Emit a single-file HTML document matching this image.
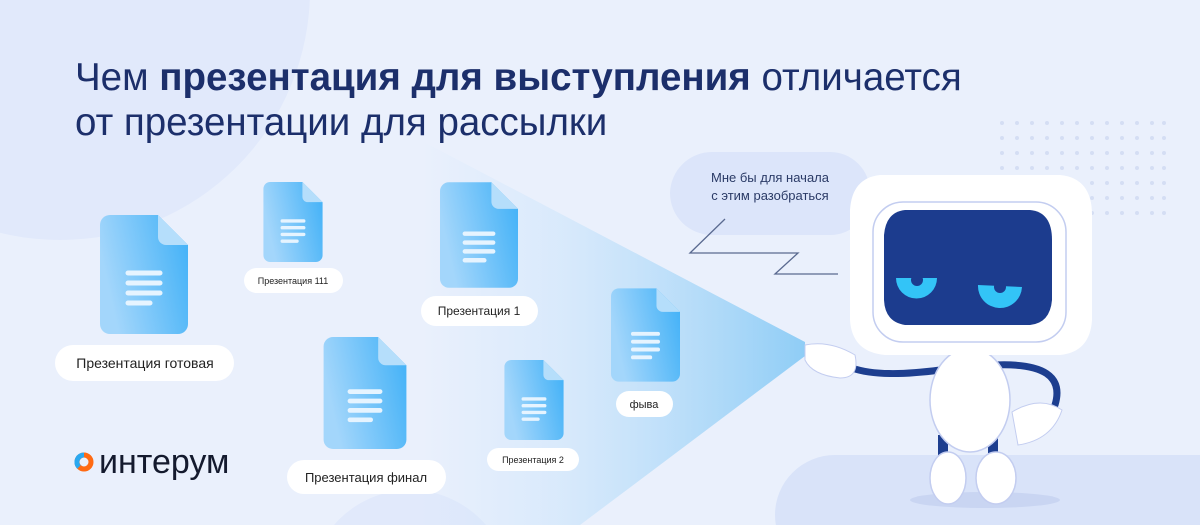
<!DOCTYPE html>
<html><head><meta charset="utf-8"><style>
html,body{margin:0;width:1200px;height:525px;overflow:hidden;background:#eaf0fc;font-family:"Liberation Sans",sans-serif}
svg{display:block}
</style></head><body>
<svg width="1200" height="525" viewBox="0 0 1200 525" xmlns="http://www.w3.org/2000/svg">
<defs>
<linearGradient id="beam" x1="0" x2="1" y1="0" y2="0">
<stop offset="0" stop-color="#cfe6fb" stop-opacity="0"/>
<stop offset="0.35" stop-color="#cfe6fb" stop-opacity="0.6"/>
<stop offset="1" stop-color="#8fcdf6"/>
</linearGradient>
<linearGradient id="doc" x1="0" x2="1" y1="0.3" y2="0">
<stop offset="0" stop-color="#a3d6fb"/>
<stop offset="1" stop-color="#3fb0f7"/>
</linearGradient>
<symbol id="d" viewBox="0 0 88 119">
<path d="M10 0H58L88 30V109A10 10 0 0 1 78 119H10A10 10 0 0 1 0 109V10A10 10 0 0 1 10 0Z" fill="url(#doc)"/>
<path d="M58 0L88 30H66A8 8 0 0 1 58 22Z" fill="#b5defb"/>
<g stroke="#e6f4ff" stroke-width="5" stroke-linecap="round">
<line x1="28" y1="58" x2="60" y2="58"/><line x1="28" y1="68" x2="60" y2="68"/><line x1="28" y1="78" x2="60" y2="78"/><line x1="28" y1="88" x2="50" y2="88"/></g>
</symbol>
</defs>
<circle cx="60" cy="-10" r="250" fill="#e1e9fb"/>
<circle cx="410" cy="590" r="100" fill="#e1e9fb"/>
<rect x="775" y="455" width="500" height="120" rx="60" fill="#d9e3f9"/>
<polygon points="420,140 805,342 805,356 580,525 420,525" fill="url(#beam)"/>
<g fill="#d4def4">
<g id="row">
<circle cx="1002" cy="123" r="2"/><circle cx="1017" cy="123" r="2"/><circle cx="1032" cy="123" r="2"/><circle cx="1047" cy="123" r="2"/><circle cx="1062" cy="123" r="2"/><circle cx="1077" cy="123" r="2"/><circle cx="1092" cy="123" r="2"/><circle cx="1107" cy="123" r="2"/><circle cx="1122" cy="123" r="2"/><circle cx="1137" cy="123" r="2"/><circle cx="1152" cy="123" r="2"/><circle cx="1164" cy="123" r="2"/>
</g>
<use href="#row" y="15"/><use href="#row" y="30"/><use href="#row" y="45"/><use href="#row" y="60"/><use href="#row" y="75"/><use href="#row" y="90"/>
</g>
<text x="75" y="90" font-size="38.5" fill="#1c2f6b">Чем <tspan font-weight="bold">презентация для выступления</tspan> отличается</text>
<text x="75" y="135" font-size="38.5" fill="#1c2f6b">от презентации для рассылки</text>
<use href="#d" x="100" y="215" width="88" height="119"/>
<use href="#d" x="263" y="182" width="60" height="80"/>
<use href="#d" x="440" y="182" width="78" height="106"/>
<use href="#d" x="323" y="337" width="84" height="112"/>
<use href="#d" x="504" y="360" width="60" height="80"/>
<use href="#d" x="611" y="288" width="69" height="94"/>
<g fill="#fff">
<rect x="55" y="345" width="179" height="36" rx="18"/>
<rect x="244" y="268" width="99" height="25" rx="12.5"/>
<rect x="421" y="296" width="117" height="30" rx="15"/>
<rect x="287" y="460" width="159" height="34" rx="17"/>
<rect x="487" y="448" width="92" height="23" rx="11.5"/>
<rect x="616" y="391" width="57" height="26" rx="13"/>
</g>
<g fill="#222" text-anchor="middle">
<text x="145" y="368" font-size="14">Презентация готовая</text>
<text x="293" y="284" font-size="9">Презентация 111</text>
<text x="479" y="315" font-size="12">Презентация 1</text>
<text x="366" y="482" font-size="13">Презентация финал</text>
<text x="533" y="463" font-size="9">Презентация 2</text>
<text x="644" y="408" font-size="11">фыва</text>
</g>
<path d="M712 152H830A40 40 0 0 1 870 192V195A40 40 0 0 1 830 235H712A42 42 0 0 1 670 193A42 42 0 0 1 712 152Z" fill="#dce5fa"/>
<text x="770" y="182" font-size="13" fill="#2a3a66" text-anchor="middle">Мне бы для начала</text>
<text x="770" y="200" font-size="13" fill="#2a3a66" text-anchor="middle">с этим разобраться</text>
<polyline points="725,219 690,253 798,253 775,274 838,274" fill="none" stroke="#5a6a90" stroke-width="1.3"/>
<ellipse cx="985" cy="500" rx="75" ry="8" fill="#c9d5f2"/>
<!-- robot -->
<path d="M852 368 Q880 378 940 370" stroke="#1d3e8f" stroke-width="7" fill="none" stroke-linecap="round"/>
<path d="M995 365 Q1068 362 1055 405" stroke="#1d3e8f" stroke-width="7" fill="none" stroke-linecap="round"/>
<rect x="938" y="435" width="10" height="28" fill="#1d3e8f"/><rect x="988" y="435" width="10" height="28" fill="#1d3e8f"/>
<path d="M805 345 Q830 340 855 355 Q860 378 840 378 Q812 375 805 360Z" fill="#fff" stroke="#c3cdf0"/>
<ellipse cx="970" cy="400" rx="40" ry="52" fill="#fff" stroke="#c3cdf0" stroke-width="1.5"/>
<path d="M1012 412 Q1040 395 1062 410 Q1052 440 1018 445Z" fill="#fff" stroke="#c3cdf0"/>
<ellipse cx="948" cy="478" rx="18" ry="26" fill="#fff" stroke="#c3cdf0" stroke-width="1.5"/>
<ellipse cx="996" cy="478" rx="20" ry="26" fill="#fff" stroke="#c3cdf0" stroke-width="1.5"/>
<path d="M880 175H1060Q1092 178 1092 215V320Q1090 352 1060 355H885Q852 352 850 320V210Q852 178 880 175Z" fill="#fff"/>
<rect x="873" y="202" width="193" height="140" rx="30" fill="none" stroke="#c3cdf0" stroke-width="1.5"/>
<path d="M905 210H1030Q1052 212 1052 240V300Q1050 323 1030 325H905Q885 322 884 300V235Q886 212 905 210Z" fill="#1c3c8e"/>
<path d="M896 278A20 20 0 0 0 937 278Z" fill="#33c4f7"/><circle cx="917" cy="280" r="6" fill="#1c3c8e"/>
<path d="M978 285A21 21 0 0 0 1022 287Z" fill="#33c4f7"/><circle cx="1000" cy="287" r="6" fill="#1c3c8e"/>
<!-- logo -->
<circle cx="84" cy="462" r="7" fill="none" stroke="#ff6a13" stroke-width="5"/>
<path d="M84 455A7 7 0 0 0 79 467" fill="none" stroke="#2aa8f0" stroke-width="5"/>
<text x="99" y="473" font-size="34" fill="#141a2e">интерум</text>
</svg>
</body></html>
